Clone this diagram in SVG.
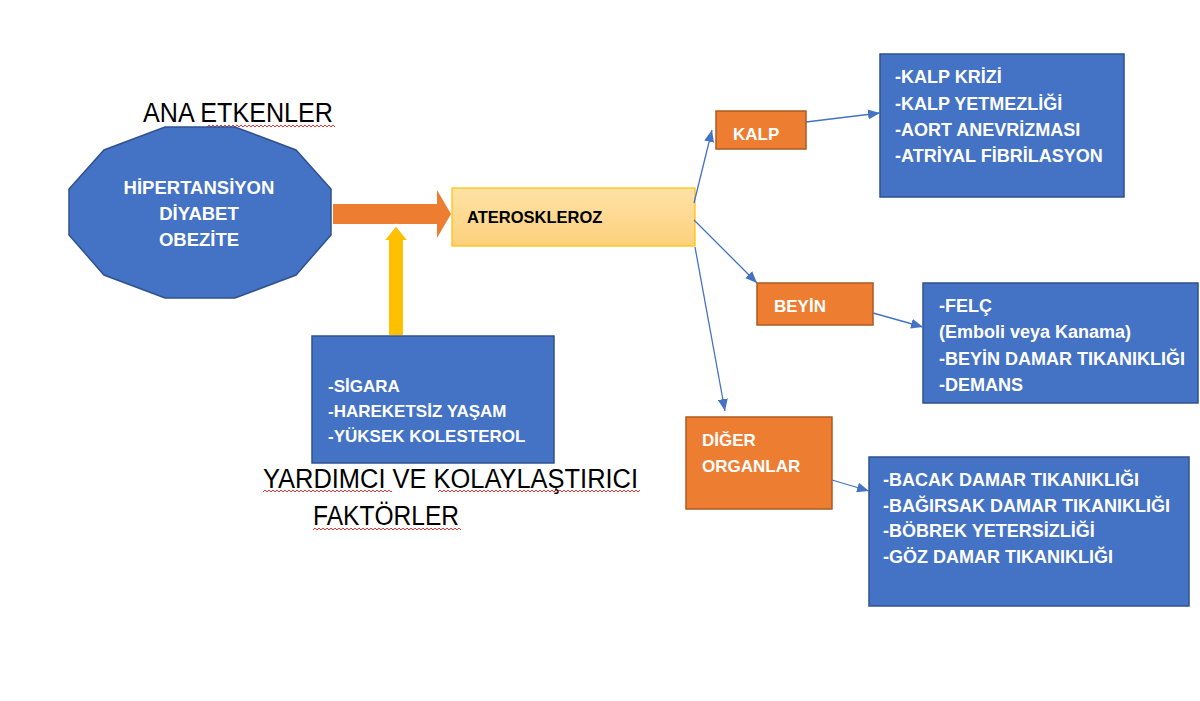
<svg xmlns="http://www.w3.org/2000/svg" width="1200" height="701" viewBox="0 0 1200 701">
<style>
.blue{fill:#4472c4;stroke:#2f528f;stroke-width:1.5}
.orange{fill:#ed7d31;stroke:#ae5a21;stroke-width:1.5}
.wt{font-family:"Liberation Sans",Arial,sans-serif;font-weight:bold;font-size:17px;fill:#ffffff}
.lt{font-size:18px}
.oct{font-size:18.5px;text-anchor:middle}
.bt{font-family:"Liberation Sans",Arial,sans-serif;font-weight:bold;font-size:16.5px;fill:#000000}
.big{font-family:"Liberation Sans",Arial,sans-serif;font-size:27px;fill:#000000}
.conn{stroke:#4472c4;stroke-width:1.3;fill:none;marker-end:url(#ah)}
</style>
<defs>
<marker id="ah" viewBox="0 0 12 10" refX="12" refY="5" markerWidth="12" markerHeight="10" markerUnits="userSpaceOnUse" orient="auto">
<path d="M0,0 L12,5 L0,10 z" fill="#4472c4"/>
</marker>
<pattern id="wave" width="4" height="4" patternUnits="userSpaceOnUse">
<path d="M0,3 L2,1 L4,3" fill="none" stroke="#e02020" stroke-width="0.9"/>
</pattern>
<linearGradient id="ag" x1="0" y1="0" x2="0" y2="1">
<stop offset="0" stop-color="#ffe2a6"/>
<stop offset="1" stop-color="#fdd07c"/>
</linearGradient>
</defs>
<rect width="1200" height="701" fill="#ffffff"/>

<g id="title-ana">
<text class="big" x="143" y="122" textLength="190" lengthAdjust="spacingAndGlyphs">ANA ETKENLER</text>
<rect x="0" y="0" width="128" height="4" fill="url(#wave)" transform="translate(207,124)"/>
</g>

<g id="ana-etkenler">
<polygon class="blue" points="331,235 296,275 235,298 165,298 104,275 69,235 69,189 104,150 165,127 235,127 296,150 331,189"/>
<text class="wt oct" x="199" y="194">HİPERTANSİYON</text>
<text class="wt oct" x="199" y="220">DİYABET</text>
<text class="wt oct" x="199" y="246">OBEZİTE</text>
</g>

<g id="orange-arrow">
<polygon points="333,204 437,204 437,190 451,214 437,238 437,224 333,224" fill="#ed7d31"/>
</g>

<g id="yellow-arrow">
<polygon points="388,336 388,241 383,241 396,225 409,241 404,241 404,336" fill="#ffc000" stroke="#ffffff" stroke-width="2"/>
</g>

<g id="ateroskleroz">
<rect x="452" y="188" width="243" height="58" fill="url(#ag)" stroke="#ffc000" stroke-width="1.2"/>
<text class="bt" x="467" y="223">ATEROSKLEROZ</text>
</g>

<g id="yardimci">
<rect class="blue" x="312" y="336" width="242" height="127"/>
<text class="wt" x="328" y="392">-SİGARA</text>
<text class="wt" x="328" y="417">-HAREKETSİZ YAŞAM</text>
<text class="wt" x="328" y="442">-YÜKSEK KOLESTEROL</text>
</g>

<g id="title-yardimci">
<text class="big" x="263" y="488" textLength="375" lengthAdjust="spacingAndGlyphs">YARDIMCI VE KOLAYLAŞTIRICI</text>
<text class="big" x="313" y="525" textLength="146" lengthAdjust="spacingAndGlyphs">FAKTÖRLER</text>
<rect x="0" y="0" width="129" height="4" fill="url(#wave)" transform="translate(263,489)"/>
<rect x="0" y="0" width="202" height="4" fill="url(#wave)" transform="translate(438,489)"/>
<rect x="0" y="0" width="148" height="4" fill="url(#wave)" transform="translate(313,527)"/>
</g>

<g id="kalp">
<rect class="orange" x="716" y="111" width="90" height="38"/>
<text class="wt" x="733" y="140">KALP</text>
</g>

<g id="kalp-list">
<rect class="blue" x="880" y="54" width="244" height="143"/>
<text class="wt lt" x="895" y="83">-KALP KRİZİ</text>
<text class="wt lt" x="895" y="110">-KALP YETMEZLİĞİ</text>
<text class="wt lt" x="895" y="136">-AORT ANEVRİZMASI</text>
<text class="wt lt" x="895" y="162">-ATRİYAL FİBRİLASYON</text>
</g>

<g id="beyin">
<rect class="orange" x="757" y="283" width="116" height="42"/>
<text class="wt" x="774" y="312">BEYİN</text>
</g>

<g id="beyin-list">
<rect class="blue" x="923" y="283" width="275" height="120"/>
<text class="wt lt" x="939" y="312">-FELÇ</text>
<text class="wt lt" x="939" y="338">(Emboli veya Kanama)</text>
<text class="wt lt" x="939" y="365">-BEYİN DAMAR TIKANIKLIĞI</text>
<text class="wt lt" x="939" y="391">-DEMANS</text>
</g>

<g id="diger">
<rect class="orange" x="686" y="417" width="146" height="92"/>
<text class="wt" x="702" y="446">DİĞER</text>
<text class="wt" x="702" y="472">ORGANLAR</text>
</g>

<g id="diger-list">
<rect class="blue" x="869" y="457" width="320" height="149"/>
<text class="wt lt" x="883" y="486">-BACAK DAMAR TIKANIKLIĞI</text>
<text class="wt lt" x="883" y="512">-BAĞIRSAK DAMAR TIKANIKLIĞI</text>
<text class="wt lt" x="883" y="537">-BÖBREK YETERSİZLİĞİ</text>
<text class="wt lt" x="883" y="563">-GÖZ DAMAR TIKANIKLIĞI</text>
</g>

<g id="connectors">
<line class="conn" x1="694" y1="203" x2="712" y2="130"/>
<line class="conn" x1="694" y1="220" x2="757" y2="283"/>
<line class="conn" x1="695" y1="247" x2="725" y2="411"/>
<line class="conn" x1="806" y1="122" x2="880" y2="113"/>
<line class="conn" x1="873" y1="313" x2="923" y2="327"/>
<line class="conn" x1="832" y1="480" x2="869" y2="491"/>
</g>
</svg>
